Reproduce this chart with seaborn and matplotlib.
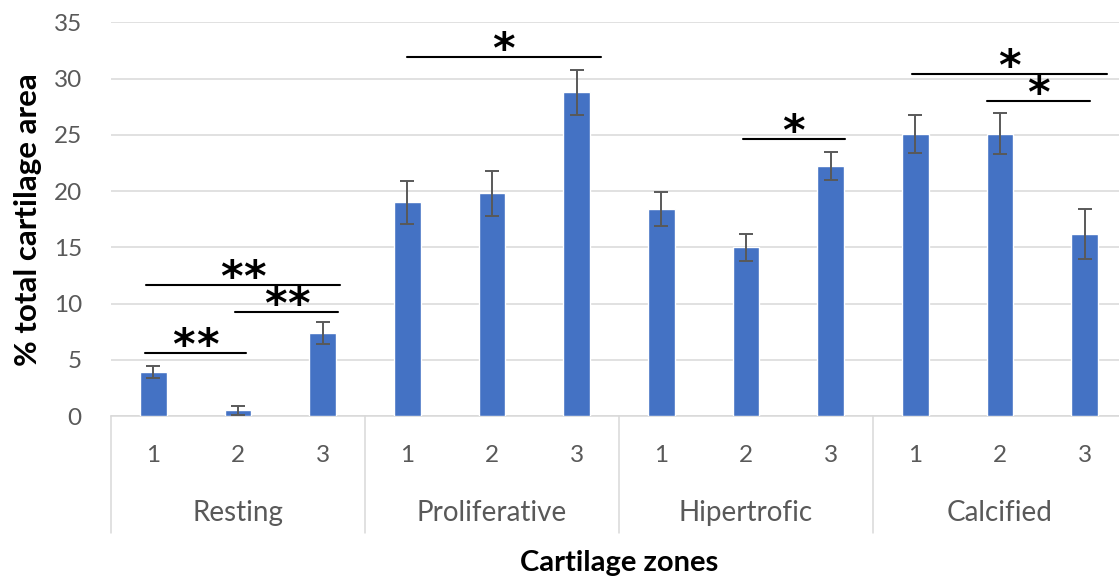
import matplotlib
matplotlib.use("Agg")
import matplotlib.pyplot as plt
import matplotlib.transforms as mtransforms
import seaborn as sns
import pandas as pd
import numpy as np

# ---- data ----
zones = ["Resting", "Proliferative", "Hipertrofic", "Calcified"]
sub_labels = ["1", "2", "3"]
means = [3.9, 0.5, 7.4,
         19.0, 19.8, 28.8,
         18.4, 15.0, 22.2,
         25.1, 25.1, 16.2]
errors = [0.55, 0.4, 1.0,
          1.9, 2.0, 2.0,
          1.55, 1.2, 1.25,
          1.7, 1.85, 2.2]
# significance brackets: (start pos, end pos, height, label)
sig_x0 = [-0.1, -0.09, 0.97, 2.99, 6.96, 8.96, 9.85]
sig_x1 = [1.09, 2.21, 2.18, 5.29, 8.17, 11.26, 11.06]
sig_y = [5.6, 11.65, 9.27, 31.95, 24.6, 30.4, 28.0]
sig_txt = ["**", "**", "**", "*", "*", "*", "*"]
y_ticks = [0, 5, 10, 15, 20, 25, 30, 35]

labels = [f"{z} {s}" for z in zones for s in sub_labels]
df = pd.DataFrame({"cat": labels, "value": means})

sns.set_theme(style="white")
plt.rcParams['font.family'] = ['Lato', 'DejaVu Sans']

fig = plt.figure(figsize=(11.19, 5.79), dpi=100)
ax = fig.add_axes([0.0992, 0.2815, 0.908, 0.68])

sns.barplot(data=df, x="cat", y="value", color="#4472C4", width=0.315,
            saturation=1, errorbar=None, ax=ax, zorder=3)
pos = np.arange(len(means))
ax.errorbar(pos, means, yerr=errors, fmt="none", ecolor="#595959",
            elinewidth=1.4, capsize=5.3, capthick=1.4, zorder=4)

ax.set_xlim(-0.5, len(means) - 0.5)
ax.set_ylim(0, 35)
ax.set_yticks(y_ticks)
ax.yaxis.grid(True, color="#d9d9d9", linewidth=1.1, zorder=0)
ax.set_axisbelow(True)
for s in ["top", "right", "left"]:
    ax.spines[s].set_visible(False)
ax.spines["bottom"].set_color("#d9d9d9")
ax.spines["bottom"].set_linewidth(1.1)

ax.set_xticks(pos)
ax.set_xticklabels(sub_labels * len(zones))
ax.tick_params(axis="x", length=0, pad=21, labelsize=17.5, labelcolor="#595959")
ax.tick_params(axis="y", length=0, pad=21, labelsize=17.5, labelcolor="#595959")
ax.set_xlabel("")
ax.set_ylabel("% total cartilage area", fontsize=22.5, fontweight="bold",
              color="black", labelpad=8)

trans = mtransforms.blended_transform_factory(ax.transData, ax.transAxes)
n = len(sub_labels)
for i in range(len(zones) + 1):
    xb = i * n - 0.5
    ax.plot([xb, xb], [0, -0.298], transform=trans, color="#d9d9d9",
            lw=1.1, clip_on=False)
for i, z in enumerate(zones):
    ax.text(i * n + (n - 1) / 2, -0.266, z, transform=trans, ha="center",
            va="baseline", fontsize=20, color="#595959")

ax.text(0.5, -0.394, "Cartilage zones", transform=ax.transAxes, ha="center",
        va="baseline", fontsize=21, fontweight="bold", color="black")

star_step = 23.5 * 72 / 100  # points between star centres
for x0, x1, y, t in zip(sig_x0, sig_x1, sig_y, sig_txt):
    ax.plot([x0, x1], [y, y], color="black", lw=1.5, zorder=5, clip_on=False)
    k = len(t)
    for j in range(k):
        off = (j - (k - 1) / 2) * star_step
        tr = mtransforms.offset_copy(ax.transData, fig=fig, x=off, y=0,
                                     units="points")
        ax.text((x0 + x1) / 2, y - 0.55, "*", ha="center", va="baseline",
                fontsize=31, fontweight="bold", color="black",
                family="DejaVu Sans", zorder=5, transform=tr)

fig.savefig("out.png", dpi=100)
